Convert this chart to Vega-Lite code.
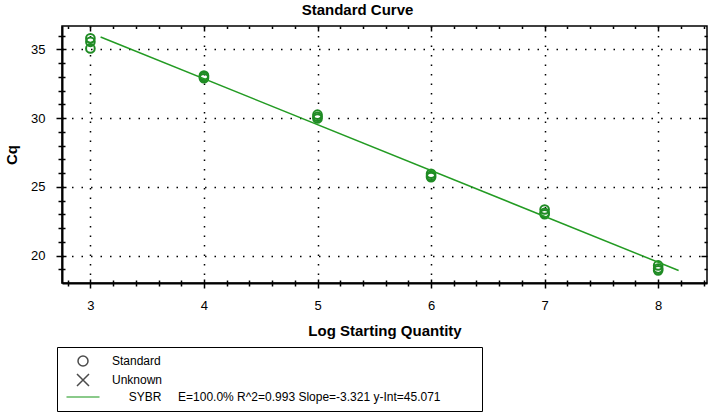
{
  "$schema": "https://vega.github.io/schema/vega-lite/v6.json",
  "width": 645,
  "height": 257,
  "autosize": "none",
  "padding": {"left": 62, "top": 26, "right": 1, "bottom": 130},
  "background": "white",
  "title": {"text": "Standard Curve", "font": "Liberation Sans", "fontSize": 15, "fontWeight": "bold", "color": "black", "anchor": "middle", "dx": -27, "offset": 7},
  "config": {
    "view": {"stroke": "black", "strokeWidth": 1.5},
    "axis": {"labelFont": "Liberation Sans", "titleFont": "Liberation Sans", "labelColor": "black", "titleColor": "black", "tickColor": "black", "tickWidth": 1.5, "domainColor": "black"}
  },
  "datasets": {
    "std": [
      {"x": 3, "y": 35.8}, {"x": 3, "y": 35.55}, {"x": 3, "y": 35.07},
      {"x": 4, "y": 33.1}, {"x": 4, "y": 33.0}, {"x": 4, "y": 32.9},
      {"x": 5, "y": 30.25}, {"x": 5, "y": 30.1}, {"x": 5, "y": 29.97},
      {"x": 6, "y": 25.95}, {"x": 6, "y": 25.8}, {"x": 6, "y": 25.7},
      {"x": 7, "y": 23.35}, {"x": 7, "y": 23.1}, {"x": 7, "y": 23.0},
      {"x": 8, "y": 19.28}, {"x": 8, "y": 19.05}, {"x": 8, "y": 18.92}
    ],
    "fit": [{"x": 3.09, "y": 35.9}, {"x": 8.18, "y": 18.91}],
    "leg": [{"x": 0, "y": 0, "leg": "Standard"}, {"x": 0, "y": 0, "leg": "Unknown"}, {"x": 0, "y": 0, "leg": "SYBR"}],
    "dummy": [{"x": 0, "y": 0}]
  },
  "resolve": {"axis": {"x": "independent", "y": "independent"}},
  "layer": [
    {
      "data": {"name": "std"},
      "mark": {"type": "point", "shape": "circle", "filled": false, "size": 75, "strokeWidth": 2, "color": "#1f8b24", "opacity": 1},
      "encoding": {
        "x": {"field": "x", "type": "quantitative", "scale": {"domain": [2.75, 8.43], "nice": false, "zero": false},
          "axis": {"orient": "bottom", "values": [3, 4, 5, 6, 7, 8], "grid": true, "gridColor": "black", "gridDash": [1.5, 8], "gridWidth": 1.5, "gridOpacity": 1, "ticks": false, "tickSize": 0, "domain": true, "domainWidth": 2, "labelPadding": 16, "labelFontSize": 13, "title": "Log Starting Quantity", "titleFontSize": 15, "titleFontWeight": "bold", "titlePadding": 11}},
        "y": {"field": "y", "type": "quantitative", "scale": {"domain": [18, 36.7], "nice": false, "zero": false},
          "axis": {"orient": "left", "values": [20, 25, 30, 35], "grid": true, "gridColor": "black", "gridDash": [1.5, 8], "gridWidth": 1.5, "gridOpacity": 1, "ticks": false, "tickSize": 0, "domain": true, "domainWidth": 2, "labelPadding": 17, "labelFontSize": 13, "title": "Cq", "titleFontSize": 15, "titleFontWeight": "bold", "titlePadding": 11}}
      }
    },
    {
      "data": {"name": "fit"},
      "mark": {"type": "line", "color": "#239b23", "strokeWidth": 1.5},
      "encoding": {
        "x": {"field": "x", "type": "quantitative", "scale": {"domain": [2.75, 8.43], "nice": false, "zero": false},
          "axis": {"orient": "bottom", "values": [3, 4, 5, 6, 7, 8], "labels": false, "grid": false, "domain": false, "ticks": true, "tickSize": 9, "offset": -4, "title": null}},
        "y": {"field": "y", "type": "quantitative", "scale": {"domain": [18, 36.7], "nice": false, "zero": false},
          "axis": {"orient": "left", "values": [20, 25, 30, 35], "labels": false, "grid": false, "domain": false, "ticks": true, "tickSize": 10, "offset": -4, "title": null}}
      }
    },
    {
      "data": {"name": "leg"},
      "mark": {"type": "point", "filled": false, "clip": true, "strokeWidth": 1.5},
      "encoding": {
        "x": {"field": "x", "type": "quantitative", "scale": {"domain": [2.75, 8.43], "nice": false, "zero": false},
          "axis": {"orient": "bottom", "values": [2.8, 3.2, 3.4, 3.6, 3.8, 4.2, 4.4, 4.6, 4.8, 5.2, 5.4, 5.6, 5.8, 6.2, 6.4, 6.6, 6.8, 7.2, 7.4, 7.6, 7.8, 8.2, 8.4], "labels": false, "grid": false, "domain": false, "ticks": true, "tickSize": 6, "offset": -3, "title": null}},
        "y": {"field": "y", "type": "quantitative", "scale": {"domain": [18, 36.7], "nice": false, "zero": false},
          "axis": {"orient": "left", "values": [19, 21, 22, 23, 24, 26, 27, 28, 29, 31, 32, 33, 34, 36], "labels": false, "grid": false, "domain": false, "ticks": true, "tickSize": 7, "offset": -3, "title": null}},
        "shape": {"field": "leg", "type": "nominal",
          "scale": {"domain": ["Standard", "Unknown", "SYBR"], "range": ["circle", "M-1.2,-1.2L1.2,1.2M-1.2,1.2L1.2,-1.2", "M-3.3,0L3.3,0"]},
          "legend": {"orient": "none", "legendX": -5, "legendY": 321, "title": null, "strokeColor": "black", "fillColor": "white", "padding": 8, "rowPadding": 2, "symbolSize": 100, "symbolOffset": 12, "symbolStrokeWidth": 1.5, "symbolFillColor": "transparent", "labelOffset": 23, "labelFont": "Liberation Sans", "labelFontSize": 12, "labelColor": "black", "labelLimit": 1000,
            "labelExpr": "datum.label == 'SYBR' ? '\u200b\u00a0\u00a0\u00a0\u00a0\u00a0SYBR\u00a0\u00a0\u00a0\u00a0\u00a0E=100.0% R^2=0.993 Slope=-3.321 y-Int=45.071\u00a0\u00a0\u00a0\u00a0\u00a0\u00a0\u00a0\u00a0\u00a0\u00a0\u200b' : datum.label"}},
        "stroke": {"field": "leg", "type": "nominal",
          "scale": {"domain": ["Standard", "Unknown", "SYBR"], "range": ["black", "black", "#239b23"]},
          "legend": {"orient": "none", "legendX": -5, "legendY": 321, "title": null}}
      }
    },
    {
      "data": {"name": "dummy"},
      "mark": {"type": "point", "clip": true, "opacity": 0},
      "encoding": {
        "x": {"field": "x", "type": "quantitative", "scale": {"domain": [2.75, 8.43], "nice": false, "zero": false},
          "axis": {"orient": "top", "values": [3, 4, 5, 6, 7, 8], "labels": false, "grid": false, "domain": false, "ticks": true, "tickSize": -5, "title": null}},
        "y": {"field": "y", "type": "quantitative", "scale": {"domain": [18, 36.7], "nice": false, "zero": false},
          "axis": {"orient": "right", "values": [20, 25, 30, 35], "labels": false, "grid": false, "domain": false, "ticks": true, "tickSize": -6, "title": null}}
      }
    },
    {
      "data": {"name": "dummy"},
      "mark": {"type": "point", "clip": true, "opacity": 0},
      "encoding": {
        "x": {"field": "x", "type": "quantitative", "scale": {"domain": [2.75, 8.43], "nice": false, "zero": false},
          "axis": {"orient": "top", "values": [2.8, 3.2, 3.4, 3.6, 3.8, 4.2, 4.4, 4.6, 4.8, 5.2, 5.4, 5.6, 5.8, 6.2, 6.4, 6.6, 6.8, 7.2, 7.4, 7.6, 7.8, 8.2, 8.4], "labels": false, "grid": false, "domain": false, "ticks": true, "tickSize": -2.5, "title": null}},
        "y": {"field": "y", "type": "quantitative", "scale": {"domain": [18, 36.7], "nice": false, "zero": false},
          "axis": {"orient": "right", "values": [19, 21, 22, 23, 24, 26, 27, 28, 29, 31, 32, 33, 34, 36], "labels": false, "grid": false, "domain": false, "ticks": true, "tickSize": -3, "title": null}}
      }
    }
  ]
}
